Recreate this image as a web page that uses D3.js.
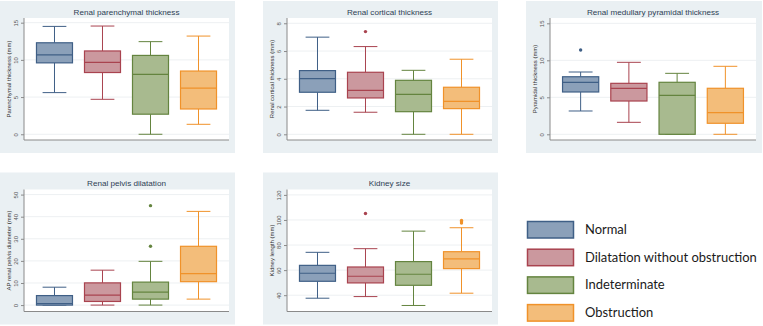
<!DOCTYPE html>
<html><head><meta charset="utf-8">
<script src="https://cdn.jsdelivr.net/npm/d3@7"></script>
<style>
html,body{margin:0;padding:0;background:#fff;}
svg{display:block;}
</style></head>
<body>
<svg id="c" width="763" height="326"></svg>
<script>
// ---------- data ----------
const groups = ["Normal", "Dilatation without obstruction", "Indeterminate", "Obstruction"];
const fillColors = ["#8ba0b9", "#cb989e", "#a8ba8f", "#f3bd7a"];
const strokeColors = ["#3f5f86", "#a9434f", "#64843f", "#f0922a"];

const titles = ["Renal parenchymal thickness", "Renal cortical thickness", "Renal medullary pyramidal thickness", "Renal pelvis dilatation", "Kidney size"];
const axisTitles = ["Parenchymal thickness (mm)", "Renal cortical thickness (mm)", "Pyramidal thickness (mm)", "AP renal pelvis diameter (mm)", "Kidney length (mm)"];
const tickValues = [[0,5,10,15], [0,2,4,6,8], [0,5,10,15], [0,10,20,30,40,50], [40,60,80,100,120]];
const yExtents = [[-0.77,15.63], [-0.41,8.38], [-0.77,15.72], [-2.9,52.3], [27,124.3]];

// [lower whisker, Q1, median, Q3, upper whisker] per group
const parenchymal = [[5.6,9.6,10.66,12.3,14.5],[4.7,8.3,9.67,11.2,14.55],[0,2.7,8.06,10.6,12.45],[1.34,3.4,6.2,8.5,13.2]];
const cortical    = [[1.73,3.03,4.01,4.59,7.0],[1.59,2.62,3.17,4.47,6.32],[0,1.63,2.88,3.89,4.61],[0,1.85,2.38,3.39,5.41]];
const medullary   = [[3.15,5.72,7.03,7.78,8.42],[1.62,4.5,6.22,6.89,9.73],[0,0,5.27,7.03,8.24],[0,1.49,2.92,6.22,9.19]];
const pelvis      = [[0,0,0.72,4.3,8.1],[0,1.64,4.5,10.05,15.8],[0,2.7,5.86,10.4,19.8],[2.7,10.6,14.2,26.6,42.4]];
const kidney      = [[37.6,51.1,57.5,63.8,74.2],[38.9,49.8,55.1,62.5,77.1],[31.8,47.9,56.7,66.8,91.1],[41.6,61.2,68.9,74.7,93.8]];

const parenchymalOut = [[],[],[],[]];
const corticalOut    = [[],[7.4],[],[]];
const medullaryOut   = [[11.4],[],[],[]];
const pelvisOut      = [[],[],[26.6,45.0],[]];
const kidneyOut      = [[],[105.2],[],[97.5,98.5,99.6]];

const stats = [parenchymal, cortical, medullary, pelvis, kidney];
const outliers = [parenchymalOut, corticalOut, medullaryOut, pelvisOut, kidneyOut];

// ---------- layout ----------
const panelOrigins = [[0,0],[263,0],[526,0],[0,171.5],[263,171.5]];
const plot = {left:24, right:229, top:18, bottom:140};
const FONT = "'Liberation Sans', Arial, sans-serif";
const LFONT = "Lato, 'Open Sans', sans-serif";

const svg = d3.select("#c");

// measure helper to fit font sizes to reference text widths
function fitSize(text, family, targetWidth) {
  const t = svg.append("text").attr("font-family", family).attr("font-size", 10).text(text);
  const w = t.node().getComputedTextLength();
  t.remove();
  return 10 * targetWidth / w;
}
const titleSize = fitSize(titles[0], FONT, 106);
const axisTitleSize = fitSize(axisTitles[0], FONT, 77);
const legendSize = fitSize(groups[1], LFONT, 172);

stats.forEach((st, p) => {
  const [ox, oy] = panelOrigins[p];
  const g = svg.append("g").attr("transform", `translate(${ox},${oy})`);
  const right = p === 2 ? plot.right + 1 : plot.right;

  // panel background
  g.append("rect").attr("x", plot.left - 24).attr("y", plot.top - 17)
    .attr("width", (right + 6) - (plot.left - 24)).attr("height", (plot.bottom + 13) - (plot.top - 17))
    .attr("fill", "#eaf0f3");
  // plot area
  g.append("rect").attr("x", plot.left).attr("y", plot.top)
    .attr("width", right - plot.left).attr("height", plot.bottom - plot.top)
    .attr("fill", "#ffffff");

  const y = d3.scaleLinear().domain(yExtents[p]).range([plot.bottom, plot.top]);
  const x = d3.scaleBand().domain(groups).range([plot.left, right]).paddingInner(0.25).paddingOuter(0.26);

  // gridlines
  g.append("g").selectAll("line").data(tickValues[p]).join("line")
    .attr("x1", plot.left).attr("x2", right)
    .attr("y1", d => y(d)).attr("y2", d => y(d))
    .attr("stroke", "#edf0f2").attr("stroke-width", 1);

  // title
  g.append("text").attr("x", (plot.left + right) / 2).attr("y", plot.top - 3.5)
    .attr("text-anchor", "middle").attr("font-family", FONT).attr("font-size", titleSize)
    .attr("fill", "#2f3f55").text(titles[p]);

  // y axis
  const yAxis = d3.axisLeft(y).tickValues(tickValues[p]).tickSize(3).tickPadding(2).tickFormat(d3.format("d"));
  const ya = g.append("g").attr("transform", `translate(${plot.left},0)`).call(yAxis);
  ya.select(".domain").attr("stroke", "#8a8a8a").attr("d", `M0,${plot.top}V${plot.bottom}`);
  ya.selectAll(".tick line").attr("stroke", "#8a8a8a");
  ya.selectAll(".tick text")
    .attr("font-family", FONT).attr("font-size", 6).attr("fill", "#555")
    .attr("transform", "rotate(-90)")
    .attr("x", 0).attr("y", -6).attr("dy", 0)
    .attr("text-anchor", "middle");

  // x axis line
  g.append("line").attr("x1", plot.left).attr("x2", right)
    .attr("y1", plot.bottom).attr("y2", plot.bottom)
    .attr("stroke", "#8a8a8a").attr("stroke-width", 1);

  // axis title
  g.append("text").attr("transform", `translate(${plot.left - 13},${(plot.top + plot.bottom) / 2}) rotate(-90)`)
    .attr("text-anchor", "middle").attr("font-family", FONT).attr("font-size", axisTitleSize)
    .attr("fill", "#333").text(axisTitles[p]);

  // boxes
  st.forEach((s, i) => {
    const [lo, q1, med, q3, hi] = s;
    const bx = x(groups[i]), bw = x.bandwidth(), cx = bx + bw / 2;
    const cap = bw * 0.33;
    const sc = strokeColors[i];
    const bg = g.append("g");
    bg.append("line").attr("x1", cx).attr("x2", cx).attr("y1", y(q3)).attr("y2", y(hi)).attr("stroke", sc).attr("stroke-width", 1);
    bg.append("line").attr("x1", cx).attr("x2", cx).attr("y1", y(q1)).attr("y2", y(lo)).attr("stroke", sc).attr("stroke-width", 1);
    bg.append("line").attr("x1", cx - cap).attr("x2", cx + cap).attr("y1", y(hi)).attr("y2", y(hi)).attr("stroke", sc).attr("stroke-width", 1);
    bg.append("line").attr("x1", cx - cap).attr("x2", cx + cap).attr("y1", y(lo)).attr("y2", y(lo)).attr("stroke", sc).attr("stroke-width", 1);
    bg.append("rect").attr("x", bx).attr("y", y(q3)).attr("width", bw).attr("height", Math.max(0.5, y(q1) - y(q3)))
      .attr("fill", fillColors[i]).attr("stroke", sc).attr("stroke-width", 1.2);
    bg.append("line").attr("x1", bx).attr("x2", bx + bw).attr("y1", y(med)).attr("y2", y(med)).attr("stroke", sc).attr("stroke-width", 1.2);
    bg.selectAll("circle").data(outliers[p][i]).join("circle")
      .attr("cx", cx).attr("cy", d => y(d)).attr("r", 1.7).attr("fill", sc);
  });
});

// legend
const legend = svg.append("g").attr("transform", "translate(527,221)");
const rowH = 27.7;
groups.forEach((name, i) => {
  legend.append("rect").attr("x", 0.5).attr("y", i * rowH + 0.5).attr("width", 46).attr("height", 16.5)
    .attr("fill", fillColors[i]).attr("stroke", strokeColors[i]).attr("stroke-width", 1.5);
  legend.append("text").attr("x", 58).attr("y", i * rowH + 8.5).attr("dy", "0.35em")
    .attr("font-family", LFONT).attr("font-size", legendSize)
    .attr("fill", "#1a1a1a").text(name);
});
</script>
</body></html>
